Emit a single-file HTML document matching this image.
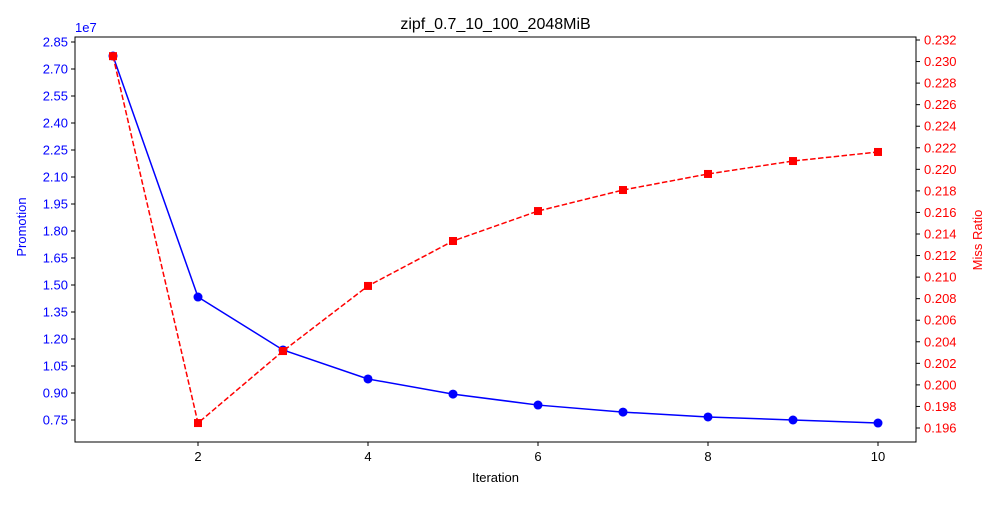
<!DOCTYPE html>
<html><head><meta charset="utf-8"><style>
body{margin:0;background:#fff;}
svg text{font-family:"Liberation Sans","DejaVu Sans",sans-serif;}
</style></head><body>
<svg id="chart" width="1000" height="500" xmlns="http://www.w3.org/2000/svg">
<rect width="1000" height="500" fill="#fff"/>
<g id="g"></g>
</svg>
<script>
const iterations=[1,2,3,4,5,6,7,8,9,10];
const promotion=[2.772,1.433,1.139,0.978,0.894,0.833,0.794,0.767,0.750,0.733];
const missRatio=[0.2305,0.19646,0.20314,0.20918,0.21335,0.21613,0.21808,0.21957,0.22077,0.22161];
const leftTicks=[0.75,0.90,1.05,1.20,1.35,1.50,1.65,1.80,1.95,2.10,2.25,2.40,2.55,2.70,2.85];
const rightTicks=[0.196,0.198,0.200,0.202,0.204,0.206,0.208,0.210,0.212,0.214,0.216,0.218,0.220,0.222,0.224,0.226,0.228,0.230,0.232];
const xTicks=[2,4,6,8,10];

const L=75,R=916,T=37,B=442;
const x=v=>113+(v-1)*85;
const yl=v=>420-(v-0.75)*180;
const yr=v=>428-(v-0.196)*10778;
const g=document.getElementById('g');
const NS='http://www.w3.org/2000/svg';
function mk(tag,attrs,parent){const e=document.createElementNS(NS,tag);for(const k in attrs)e.setAttribute(k,attrs[k]);(parent||g).appendChild(e);return e;}
function txt(s,attrs){const e=mk('text',attrs);e.textContent=s;return e;}

const frame=mk('rect',{x:L,y:T,width:R-L,height:B-T,fill:'none',stroke:'#000','stroke-width':1});



xTicks.forEach(v=>{
  const t=mk('line',{x1:x(v),x2:x(v),y1:B,y2:B+4,stroke:'#000'});
  
  
  const l=txt(v,{x:x(v),y:B+19,'font-size':13,'text-anchor':'middle'});
  
  
});
leftTicks.forEach(v=>{
  const t=mk('line',{x1:L-4,x2:L,y1:yl(v),y2:yl(v),stroke:'#000'});
  
  
  const l=txt(v.toFixed(2),{x:L-7,y:yl(v)+4.5,'font-size':13,'text-anchor':'end',fill:'blue'});
  
  
});
rightTicks.forEach(v=>{
  const t=mk('line',{x1:R,x2:R+4,y1:yr(v),y2:yr(v),stroke:'#000'});
  
  
  const l=txt(v.toFixed(3),{x:R+8,y:yr(v)+4.5,'font-size':13,fill:'red'});
  
  
});
const ex=txt('1e7',{x:L,y:T-5,'font-size':13,fill:'blue'});



const pl=mk('polyline',{points:iterations.map((v,i)=>x(v)+','+yl(promotion[i])).join(' '),fill:'none',stroke:'blue','stroke-width':1.5});


iterations.forEach((v,i)=>{
  const c=mk('circle',{cx:x(v),cy:yl(promotion[i]),r:4.5,fill:'blue'});
  
  
});
const rl=mk('polyline',{points:iterations.map((v,i)=>x(v)+','+yr(missRatio[i])).join(' '),fill:'none',stroke:'red','stroke-width':1.5,'stroke-dasharray':'5.5,2.4'});


iterations.forEach((v,i)=>{
  const s=mk('rect',{x:x(v)-4,y:yr(missRatio[i])-4,width:8,height:8,fill:'red'});
  
  
});

const ti=txt('zipf_0.7_10_100_2048MiB',{x:(L+R)/2,y:29,'font-size':16,'text-anchor':'middle'});


const xl=txt('Iteration',{x:(L+R)/2,y:482,'font-size':13,'text-anchor':'middle'});


const ylab=txt('Promotion',{x:0,y:0,'font-size':13,'text-anchor':'middle',fill:'blue',transform:'translate(26,227) rotate(-90)'});


const yrl=txt('Miss Ratio',{x:0,y:0,'font-size':13,'text-anchor':'middle',fill:'red',transform:'translate(982,240) rotate(-90)'});


</script>
</body></html>
